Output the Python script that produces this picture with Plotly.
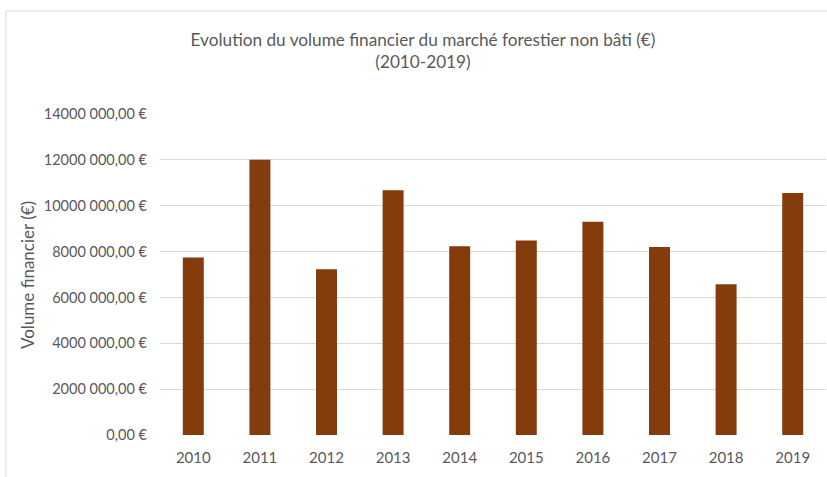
import plotly.graph_objects as go

years = ["2010", "2011", "2012", "2013", "2014", "2015", "2016", "2017", "2018", "2019"]
volumes = [7740000, 12010000, 7230000, 10670000, 8230000, 8480000, 9300000, 8200000, 6580000, 10550000]
tick_values = [0, 2000000, 4000000, 6000000, 8000000, 10000000, 12000000, 14000000]
tick_labels = ["0,00 €", "2000 000,00 €", "4000 000,00 €", "6000 000,00 €", "8000 000,00 €",
               "10000 000,00 €", "12000 000,00 €", "14000 000,00 €"]

TEXT = "#595959"
FONT = "Lato"

fig = go.Figure(go.Bar(x=years, y=volumes, marker=dict(color="#843C0C", line=dict(width=0))))

W, H = 827, 477
ml, mr, mt, mb = 160, 1, 114, 42
pw = W - ml - mr
ph = H - mt - mb

fig.update_layout(
    width=W, height=H,
    margin=dict(l=ml, r=mr, t=mt, b=mb, autoexpand=False),
    paper_bgcolor="white", plot_bgcolor="white",
    bargap=0.685,
    showlegend=False,
    font=dict(family=FONT, color=TEXT, size=14),
    title=dict(text="Evolution du volume financier du marché forestier non bâti (€)<br>(2010-2019)",
               x=423 / W, xanchor="center", xref="container",
               y=1 - 46 / H, yanchor="top", yref="container",
               font=dict(family=FONT, size=17.2, color=TEXT)),
    xaxis=dict(showgrid=False, zeroline=False, showline=False, ticks="", automargin=False,
               ticklabelstandoff=12, tickfont=dict(size=15, color=TEXT)),
    yaxis=dict(range=[0, 14000000], tickvals=tick_values, ticktext=tick_labels, automargin=False,
               showgrid=True, gridcolor="#d9d9d9", gridwidth=1.3, zeroline=False,
               showline=False, ticks="", ticklabelstandoff=12,
               tickfont=dict(size=14.5, color=TEXT)),
    annotations=[dict(text="Volume financier (€)", textangle=-90, showarrow=False,
                      xref="paper", yref="paper", x=(27 - ml) / pw, y=(H - mb - 275) / ph,
                      xanchor="center", yanchor="middle",
                      font=dict(family=FONT, size=17, color=TEXT))],
    shapes=[dict(type="rect", xref="paper", yref="paper",
                 x0=(6 - ml) / pw, x1=(W + 5 - ml) / pw,
                 y0=(H - mb - (H + 5)) / ph, y1=(H - mb - 11) / ph,
                 line=dict(color="#d9d9d9", width=1), layer="below")],
)

fig.write_html("out.html", config={"displayModeBar": False},
               post_script="document.body.style.margin='0';document.body.style.overflow='hidden';")
